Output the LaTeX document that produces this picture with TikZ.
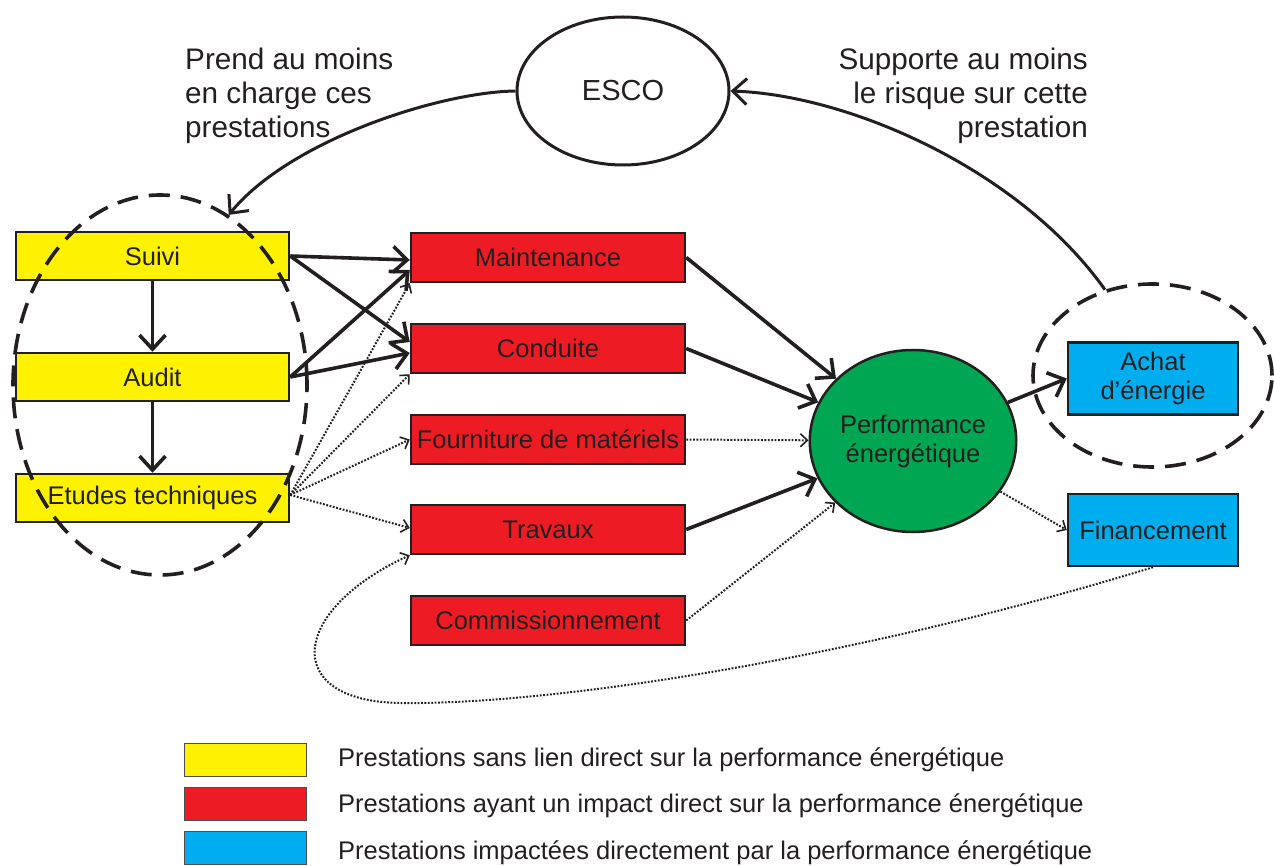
\documentclass[tikz,border=0pt]{standalone}
\usepackage{fontspec}
\setmainfont{Liberation Sans}
\usetikzlibrary{arrows.meta,shapes.geometric}
\definecolor{ink}{HTML}{231F20}
\definecolor{cyel}{HTML}{FFF200}
\definecolor{cred}{HTML}{ED1C24}
\definecolor{cblue}{HTML}{00AEEF}
\definecolor{cgreen}{HTML}{00A651}
\begin{document}
\begin{tikzpicture}[x=1pt,y=-1pt,
  txt/.style={text=ink, font=\fontsize{25.5}{29}\selectfont},
  lab/.style={text=ink, font=\fontsize{29.7}{34}\selectfont, inner sep=0pt},
  box/.style={txt, draw=ink, line width=2.5pt, minimum width=273pt,
    minimum height=48pt, inner sep=0pt},
  ybox/.style={box, fill=cyel},
  rbox/.style={box, fill=cred, minimum width=274pt, minimum height=49pt},
  bbox/.style={box, fill=cblue, minimum width=170pt, minimum height=72pt, align=center},
  keybox/.style={draw=ink!80, line width=1pt, minimum width=122pt, minimum height=33pt, inner sep=0pt},
  ring/.style={ellipse, draw=ink, dash pattern=on 21pt off 11pt, line width=3.6pt, inner sep=0pt},
  link/.style={draw=ink, line width=3.6pt, -{Straight Barb[length=14pt,width=26pt]}},
  weak/.style={draw=ink, line width=2pt, dash pattern=on 1.8pt off 1.6pt,
    -{Straight Barb[length=7pt,width=13pt,line width=1.6pt]}},
]
\useasboundingbox (0,0) rectangle (1274,866);

% prestations
\node[ybox] (suivi)  at (152.5,256) {Suivi};
\node[ybox] (audit)  at (152.5,377) {Audit};
\node[ybox] (etudes) at (152.5,498) {Etudes techniques};

\node[rbox] (maint) at (548,257.5) {Maintenance};
\node[rbox] (cond)  at (548,348.5) {Conduite};
\node[rbox] (fourn) at (548,439.5) {Fourniture de matériels};
\node[rbox] (trav)  at (548,529.5) {Travaux};
\node[rbox] (comm)  at (548,620.5) {Commissionnement};

\node[ellipse, draw=ink, line width=2.5pt, fill=cgreen, txt, align=center,
  minimum width=191pt, minimum height=182pt, inner sep=0pt] (perf) at (913,441)
  {Performance\\énergétique};

\node[bbox] (achat) at (1153,378.5) {Achat\\d’énergie};
\node[bbox] (fin)   at (1153,530) {Financement};

\node[ellipse, draw=ink, line width=3pt, minimum width=212pt, minimum height=148pt,
  inner sep=0pt, text=ink, font=\fontsize{29}{34}\selectfont] (esco) at (623,91) {ESCO};

% groupings
\node[ring, minimum width=294pt, minimum height=380pt] (ringL) at (160,385) {};
\node[ring, minimum width=239pt, minimum height=183pt] (ringR) at (1152.5,375.5) {};

% labels
\node[lab, anchor=north west, align=left] (labL) at (185,48)
  {Prend au moins\\en charge ces\\prestations};
\node[lab, anchor=north east, align=right] (labR) at (1088,48)
  {Supporte au moins\\le risque sur cette\\prestation};

% solid links
\draw[link] (suivi) -- (audit);
\draw[link] (audit) -- (etudes);
\draw[link] (suivi.east) -- ([yshift=-2.5pt]maint.west);
\draw[link] (suivi.east) -- ([yshift=6.5pt]cond.west);
\draw[link] (audit.east) -- ([yshift=-12.5pt]maint.west);
\draw[link] (audit.east) -- ([yshift=-4.5pt]cond.west);
\draw[link] (maint.east) -- (perf);
\draw[link] (cond.east) -- (perf);
\draw[link] (trav.east) -- (perf);
\draw[link] (perf) -- (achat.west);

% dotted links
\draw[weak] ([yshift=3pt]etudes.east) -- (maint.south west);
\draw[weak] ([yshift=3pt]etudes.east) -- (cond.south west);
\draw[weak] ([yshift=3pt]etudes.east) -- (fourn.west);
\draw[weak] ([yshift=3pt]etudes.east) -- ([yshift=1.5pt]trav.west);
\draw[weak] (fourn.east) -- (perf);
\draw[weak] (comm.east) -- (perf);
\draw[weak] (perf) -- (fin.west);
\draw[weak] (fin.south) .. controls (850,660) and (550,705) .. (400,703)
  .. controls (280,701) and (290,610) .. (trav.south west);

% ESCO links
\draw[link, line width=3pt] (esco.west) .. controls (440,92) and (290,140) .. (ringL.68);
\draw[link, line width=3pt] (ringR.119) .. controls (1020,170) and (850,95) .. (esco.east);

% key
\node[keybox, fill=cyel]  (k1) at (245,759.5) {};
\node[keybox, fill=cred]  (k2) at (245,803.5) {};
\node[keybox, fill=cblue] (k3) at (245,848) {};
\node[txt, anchor=west, inner sep=0pt] (t1) at (338,760) {Prestations sans lien direct sur la performance énergétique};
\node[txt, anchor=west, inner sep=0pt] (t2) at (338,806) {Prestations ayant un impact direct sur la performance énergétique};
\node[txt, anchor=west, inner sep=0pt] (t3) at (338,853) {Prestations impactées directement par la performance énergétique};
\end{tikzpicture}
\end{document}
